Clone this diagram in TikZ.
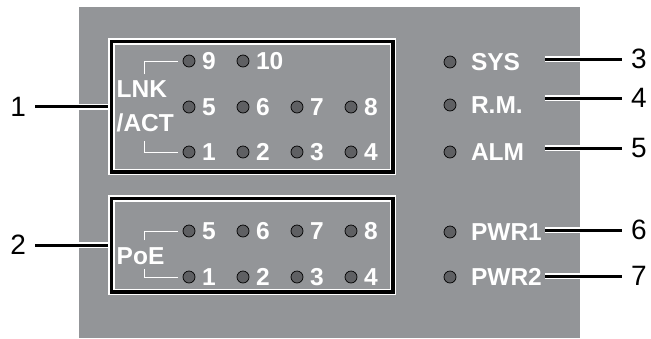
\documentclass[tikz,border=0pt]{standalone}
\usepackage{fontspec}
\setmainfont{Liberation Sans}
\usetikzlibrary{positioning}
\definecolor{cPanel}{HTML}{939598}
\definecolor{cLed}{HTML}{5f6063}
\tikzset{
  led/.style={circle,draw=black,line width=.7pt,fill=cLed,minimum size=12pt,inner sep=0pt},
  tag/.style={text=white,font=\bfseries\fontsize{24.5}{24.5}\selectfont,inner sep=0pt,anchor=west},
  callnum/.style={font=\fontsize{28}{28}\selectfont,inner sep=0pt,outer sep=9pt},
  frame/.style={draw=white,line width=6.5pt,postaction={draw=black,line width=3.5pt},inner sep=0pt},
  callout/.style={line width=3pt,preaction={draw=white,line width=6pt}},
  bracket/.style={white,line width=1pt},
}
\begin{document}
\begin{tikzpicture}[x=1pt,y=-1pt]
  \useasboundingbox (0,0) rectangle (651,338);
  \fill[cPanel] (79,7) rectangle (580,338);
  % port groups
  \node[frame,minimum width=281.5pt,minimum height=130.5pt] (lnk) at (252,106.5) {};
  \node[frame,minimum width=281.5pt,minimum height=93.5pt] (poe) at (252,245) {};
  \foreach \n/\x/\y in {9/189/61,10/243/61,5/189/107,6/243/107,7/297/107,8/351/107,
                        1/189/152,2/243/152,3/297/152,4/351/152}{
    \node[led] (a\n) at (\x,\y) {};
    \node[tag,right=6.5pt of a\n] (a\n t) {\n};
  }
  \foreach \n/\x/\y in {5/189/231,6/243/231,7/297/231,8/351/231,
                        1/189/277,2/243/277,3/297/277,4/351/277}{
    \node[led] (b\n) at (\x,\y) {};
    \node[tag,right=6.5pt of b\n] (b\n t) {\n};
  }
  \node[tag] (tLNK) at (116.5,89) {LNK};
  \node[tag] (tACT) at (116.5,123) {/ACT};
  \node[tag] (tPoE) at (116.5,256) {PoE};
  \draw[bracket] ([xshift=2.5pt,yshift=6pt]tLNK.north) |- ([xshift=-5pt]a9.west);
  \draw[bracket] ([xshift=-1pt,yshift=-9pt]tACT.south) |- ([xshift=-5pt]a1.west);
  \draw[bracket] ([xshift=3.5pt,yshift=7pt]tPoE.north) |- ([xshift=-5pt]b5.west);
  \draw[bracket] ([xshift=3.5pt,yshift=-4pt]tPoE.south) |- ([xshift=-5pt]b1.west);
  % status leds
  \foreach \n/\t/\y in {sys/SYS/62,rm/R.M./105,alm/ALM/152,pwrA/PWR1/232,pwrB/PWR2/277}{
    \node[led] (\n) at (450,\y) {};
    \node[tag,right=14.5pt of \n] (\n t) {\t};
  }
  % callouts
  \node[callnum,left=73pt of lnk] (n1) {1};
  \node[callnum,left=73pt of poe] (n2) {2};
  \draw[callout] (n1) -- (lnk);
  \draw[callout] (n2) -- (poe);
  \foreach \k/\y in {3/59,4/98,5/148,6/230,7/276}{
    \coordinate (e\k) at (545,\y);
    \node[callnum] (n\k) at (639,\y) {\k};
    \draw[callout] (e\k) -- (n\k);
  }
\end{tikzpicture}
\end{document}
